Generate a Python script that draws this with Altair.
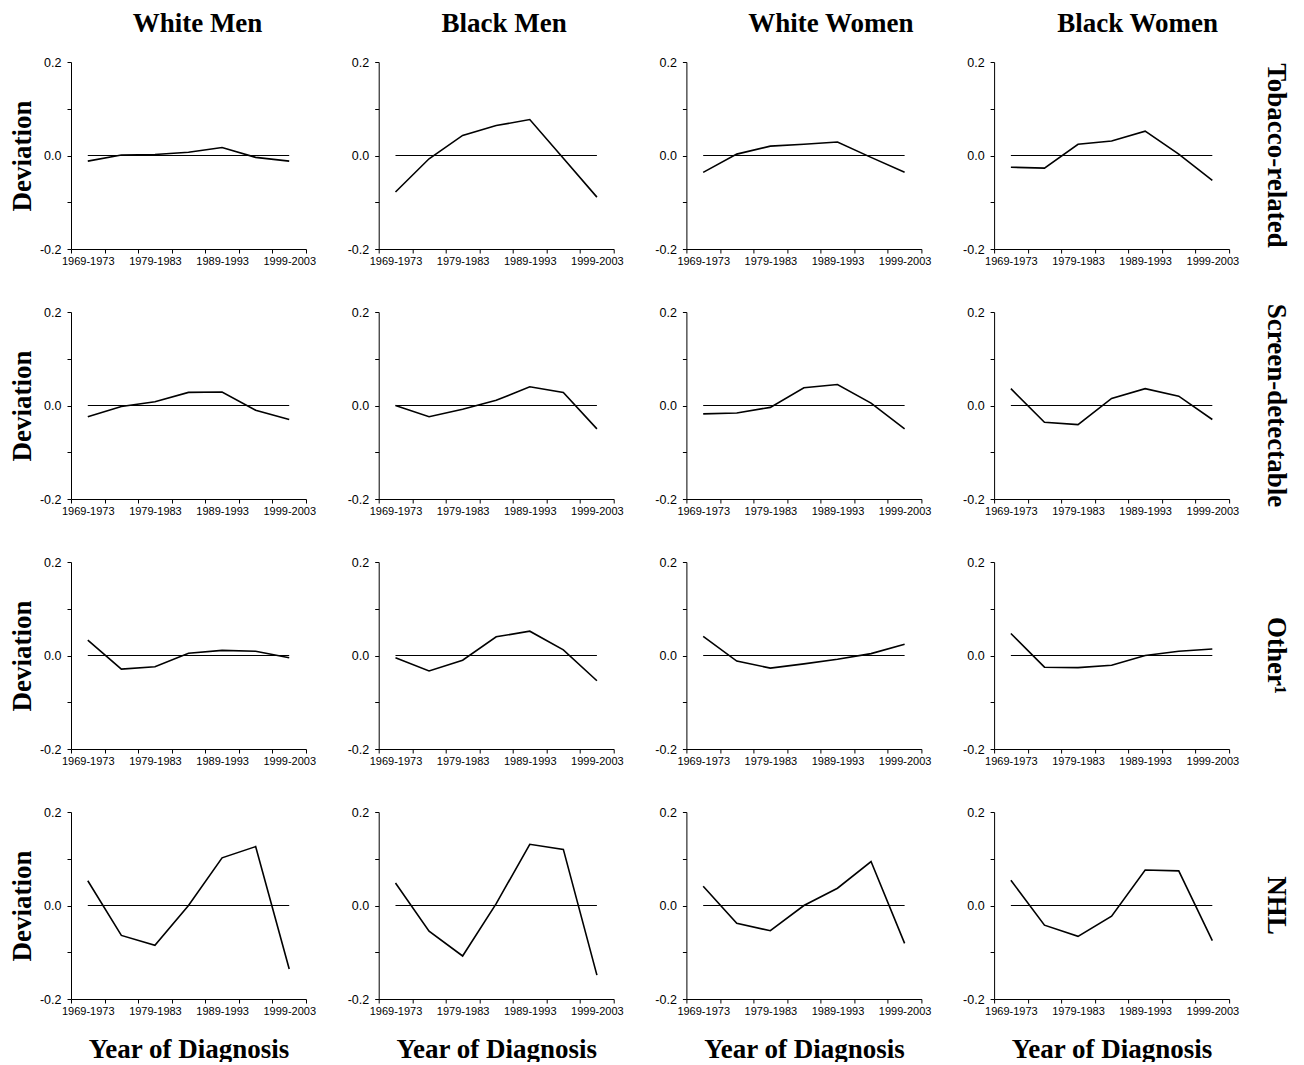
import altair as alt
import pandas as pd

periods = ["1969-1973", "1974-1978", "1979-1983", "1984-1988",
           "1989-1993", "1994-1998", "1999-2003"]
groups = ["White Men", "Black Men", "White Women", "Black Women"]
sites = ["Tobacco-related", "Screen-detectable", "Other¹", "NHL"]

# deviation values, one list per site x group (7 periods each)
tobacco_white_men = [-0.012, 0.001, 0.002, 0.007, 0.017, -0.004, -0.012]
tobacco_black_men = [-0.078, -0.007, 0.043, 0.064, 0.077, -0.006, -0.089]
tobacco_white_women = [-0.036, 0.003, 0.020, 0.024, 0.029, -0.004, -0.036]
tobacco_black_women = [-0.025, -0.027, 0.024, 0.031, 0.052, 0.003, -0.053]

screen_white_men = [-0.024, -0.002, 0.008, 0.028, 0.029, -0.010, -0.030]
screen_black_men = [0.000, -0.024, -0.008, 0.011, 0.040, 0.028, -0.050]
screen_white_women = [-0.018, -0.016, -0.004, 0.038, 0.045, 0.005, -0.050]
screen_black_women = [0.036, -0.036, -0.041, 0.015, 0.036, 0.020, -0.030]

other_white_men = [0.033, -0.029, -0.024, 0.005, 0.011, 0.009, -0.005]
other_black_men = [-0.005, -0.033, -0.010, 0.040, 0.052, 0.012, -0.054]
other_white_women = [0.041, -0.012, -0.027, -0.018, -0.008, 0.004, 0.024]
other_black_women = [0.047, -0.025, -0.026, -0.021, 0.000, 0.009, 0.014]

nhl_white_men = [0.053, -0.064, -0.085, 0.000, 0.102, 0.126, -0.136]
nhl_black_men = [0.048, -0.055, -0.108, 0.004, 0.131, 0.120, -0.149]
nhl_white_women = [0.041, -0.038, -0.054, 0.000, 0.037, 0.094, -0.081]
nhl_black_women = [0.054, -0.042, -0.066, -0.023, 0.076, 0.074, -0.075]

values = [
    [tobacco_white_men, tobacco_black_men, tobacco_white_women, tobacco_black_women],
    [screen_white_men, screen_black_men, screen_white_women, screen_black_women],
    [other_white_men, other_black_men, other_white_women, other_black_women],
    [nhl_white_men, nhl_black_men, nhl_white_women, nhl_black_women],
]

# tick labels
x_tick_labels = ["1969-1973", "", "1979-1983", "", "1989-1993", "", "1999-2003", ""]
y_tick_values = [-0.2, -0.1, 0.0, 0.1, 0.2]
y_tick_labels = ["-0.2", "", "0.0", "", "0.2"]

W = 235
H = 187
SERIF = "Liberation Serif"
SANS = "Liberation Sans"
TITLE_SIZE = 27
title_dx = [9, 8, 27, 26]


def ternary(pairs, default="''"):
    expr = default
    for cond, lab in reversed(pairs):
        expr = f"({cond}) ? '{lab}' : {expr}"
    return expr


x_label_expr = ternary([(f"datum.value == {i}", lab) for i, lab in enumerate(x_tick_labels)])
y_label_expr = ternary([(f"abs(datum.value - ({v})) < 1e-6", lab)
                        for v, lab in zip(y_tick_values, y_tick_labels)])


def x_axis(bottom):
    kw = dict(
        values=list(range(len(x_tick_labels))), labelExpr=x_label_expr,
        labelOffset=W / 14, labelFlush=False, labelOverlap=False, labelBound=False,
        tickSize=4, labelPadding=2, labelFont=SANS, labelFontSize=11,
        labelColor="black", domainColor="black", tickColor="black",
        domainWidth=1, tickWidth=1, grid=False,
    )
    if bottom:
        kw.update(title="Year of Diagnosis", titleFont=SERIF, titleFontSize=TITLE_SIZE,
                  titleFontWeight="bold", titleColor="black", titleX=W / 2, titleY=58,
                  titleBaseline="alphabetic", titleAlign="center")
    else:
        kw.update(title=None)
    return alt.Axis(**kw)


def y_axis(left):
    kw = dict(
        values=y_tick_values, labelExpr=y_label_expr,
        tickSize=4, labelPadding=6, labelFont=SANS, labelFontSize=12.5,
        labelColor="black", domainColor="black", tickColor="black",
        domainWidth=1, tickWidth=1, grid=False, labelFlush=False, labelOverlap=False,
    )
    if left:
        kw.update(title="Deviation", titleFont=SERIF, titleFontSize=TITLE_SIZE,
                  titleFontWeight="bold", titleColor="black", titleX=-41, titleY=H / 2,
                  titleAngle=270, titleBaseline="alphabetic", titleAlign="center")
    else:
        kw.update(title=None)
    return alt.Axis(**kw)


charts = []
for r in range(4):
    for c in range(4):
        df = pd.DataFrame({
            "pos": [i + 0.5 for i in range(len(periods))],
            "period": periods,
            "dev": values[r][c],
        })
        xenc = alt.X("pos:Q", scale=alt.Scale(domain=[0, 7], nice=False, zero=False),
                     axis=x_axis(r == 3))
        yenc = alt.Y("dev:Q", scale=alt.Scale(domain=[-0.2, 0.2], nice=False, zero=False),
                     axis=y_axis(c == 0))
        zero = alt.Chart(df).mark_rule(color="black", strokeWidth=1).encode(
            x=alt.X("min(pos):Q", scale=alt.Scale(domain=[0, 7], nice=False, zero=False),
                    axis=x_axis(r == 3)),
            x2="max(pos):Q",
            y=alt.datum(0),
        )
        line = alt.Chart(df).mark_line(color="black", strokeWidth=1.6).encode(x=xenc, y=yenc)
        layers = [zero, line]
        if c == 3:
            lab = alt.Chart(pd.DataFrame({"site": [sites[r]]})).mark_text(
                angle=90, font=SERIF, fontSize=TITLE_SIZE, fontWeight="bold",
                color="black", align="center", baseline="middle",
            ).encode(text="site:N", x=alt.value(W + 47), y=alt.value(H / 2))
            layers.append(lab)
        ch = alt.layer(*layers).properties(width=W, height=H)
        if r == 0:
            ch = ch.properties(title=alt.TitleParams(
                groups[c], font=SERIF, fontSize=TITLE_SIZE, fontWeight="bold",
                color="black", frame="group", anchor="middle", dx=title_dx[c],
                baseline="alphabetic", offset=-3,
            ))
        charts.append(ch)

chart = alt.concat(
    *charts, columns=4, spacing={"row": 63, "column": 72.7}, bounds="flush"
).properties(
    padding={"top": 2, "left": 0, "right": 0, "bottom": 0}, background="white"
).configure_view(stroke=None)

chart.save("out.html", embed_options={"renderer": "svg", "actions": False})
